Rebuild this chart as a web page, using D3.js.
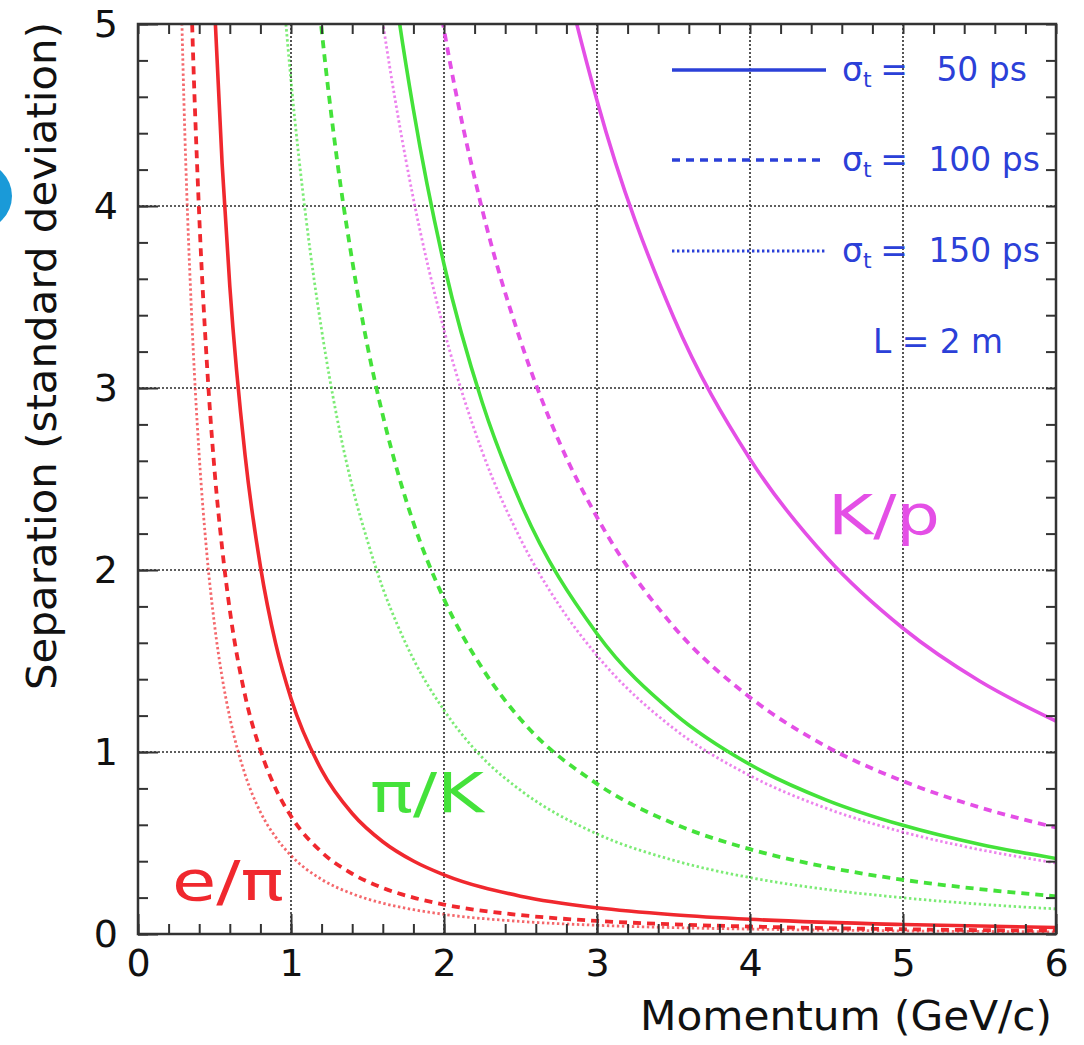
<!DOCTYPE html>
<html><head><meta charset="utf-8">
<script src="https://cdn.jsdelivr.net/npm/d3@7"></script>
<style>body{margin:0;background:#fff;overflow:hidden} svg{display:block}</style>
</head><body>
<svg id="c" width="1084" height="1045"></svg>
<script>
// ---- data ----
const xTicks = [0, 1, 2, 3, 4, 5, 6];
const yTicks = [0, 1, 2, 3, 4, 5];
const sigmaLabels = ["50", "100", "150"];
const pairLabels = ["e/π", "π/K", "K/p"];

const pEPi = [0.25,0.3,0.35,0.4,0.45,0.5,0.55,0.6,0.7,0.8,0.9,1.0,1.2,1.4,1.6,1.8,2.0,2.5,3,3.5,4,5,6];
const ePi50  = [19.39,13.73,10.22,7.89,6.27,5.10,4.23,3.56,2.63,2.02,1.595,1.294,0.900,0.662,0.507,0.401,0.325,0.208,0.144,0.106,0.081,0.052,0.036];
const ePi100 = [9.69,6.87,5.11,3.95,3.14,2.55,2.12,1.78,1.31,1.01,0.798,0.647,0.450,0.331,0.253,0.200,0.162,0.104,0.072,0.053,0.041,0.026,0.018];
const ePi150 = [6.46,4.58,3.41,2.63,2.09,1.70,1.41,1.19,0.876,0.67,0.532,0.431,0.300,0.221,0.169,0.134,0.108,0.069,0.048,0.035,0.027,0.017,0.012];

const pPiK = [0.8,0.9,1.0,1.1,1.2,1.3,1.4,1.5,1.6,1.7,1.8,2.0,2.25,2.5,3,3.5,4,4.5,5,5.5,6];
const piK50  = [21.3,17.16,14.08,11.75,9.95,8.53,7.39,6.46,5.70,5.06,4.53,3.68,2.92,2.37,1.65,1.215,0.931,0.736,0.597,0.493,0.415];
const piK100 = [10.67,8.58,7.04,5.87,4.97,4.26,3.70,3.23,2.85,2.53,2.26,1.84,1.46,1.18,0.825,0.607,0.466,0.368,0.298,0.247,0.207];
const piK150 = [7.11,5.72,4.69,3.92,3.32,2.84,2.46,2.16,1.90,1.69,1.51,1.23,0.97,0.79,0.550,0.405,0.310,0.245,0.199,0.164,0.138];

const pKP = [1.5,1.6,1.7,1.8,2.0,2.25,2.5,2.75,3,3.5,4,4.5,5,5.5,6];
const kP50  = [16.9,15.04,13.46,12.11,9.95,7.96,6.51,5.42,4.58,3.39,2.61,2.07,1.68,1.39,1.17];
const kP100 = [8.46,7.52,6.73,6.06,4.97,3.98,3.26,2.71,2.29,1.69,1.30,1.03,0.840,0.696,0.585];
const kP150 = [5.64,5.01,4.49,4.04,3.32,2.65,2.17,1.81,1.53,1.13,0.870,0.690,0.560,0.464,0.390];

// ---- styles ----
const colors = {"e/π": "#f0282e", "π/K": "#44e23a", "K/p": "#e44fe6"};
const dashStyles = [
  {dash: null, width: 3.6, op: 1},
  {dash: "8,6", width: 3.8, op: 1},
  {dash: "2.4,2.6", width: 2.8, op: 0.7}
];
const blue = "#2b40d8";

const series = [
  {pair: "e/π", p: pEPi, vals: [ePi50, ePi100, ePi150]},
  {pair: "π/K", p: pPiK, vals: [piK50, piK100, piK150]},
  {pair: "K/p", p: pKP,  vals: [kP50, kP100, kP150]}
];

const svg = d3.select("#c");
const x = d3.scaleLinear().domain([0, 6]).range([138, 1056]);
const y = d3.scaleLinear().domain([0, 5]).range([934, 24]);

// decorative blue circle at left edge (in reference screenshot)
svg.append("circle").attr("cx", -22).attr("cy", 196).attr("r", 34).attr("fill", "#1a9ad8");

svg.append("defs").append("clipPath").attr("id", "plotclip")
  .append("rect").attr("x", x(0)).attr("y", y(5)).attr("width", x(6) - x(0)).attr("height", y(0) - y(5));

// grid
const grid = svg.append("g").attr("stroke", "#2a2a2a").attr("stroke-width", 1.6).attr("stroke-dasharray", "2,2");
grid.selectAll(".gx").data(xTicks.slice(1, -1)).join("line")
  .attr("x1", d => x(d)).attr("x2", d => x(d)).attr("y1", y(0)).attr("y2", y(5));
grid.selectAll(".gy").data(yTicks.slice(1, -1)).join("line")
  .attr("y1", d => y(d)).attr("y2", d => y(d)).attr("x1", x(0)).attr("x2", x(6));

// curves
const line = d3.line().x(d => x(d[0])).y(d => y(d[1])).curve(d3.curveMonotoneX);
const curves = svg.append("g").attr("clip-path", "url(#plotclip)").attr("fill", "none");
series.forEach(s => {
  s.vals.forEach((v, i) => {
    const st = dashStyles[i];
    curves.append("path")
      .attr("d", line(s.p.map((pp, j) => [pp, v[j]])))
      .attr("stroke", colors[s.pair])
      .attr("stroke-width", st.width)
      .attr("stroke-opacity", st.op)
      .attr("stroke-dasharray", st.dash);
  });
});

// axes (ticks inward)
const minorX = d3.range(0, 6.0001, 0.2);
const minorY = d3.range(0, 5.0001, 0.2);
function styleAxis(g) {
  g.select(".domain").remove();
  g.selectAll(".tick line").attr("stroke", "#333").attr("stroke-width", 2);
}
svg.append("g").attr("transform", `translate(0,${y(0)})`)
  .call(d3.axisBottom(x).tickValues(minorX).tickSize(-10).tickFormat("")).call(styleAxis);
svg.append("g").attr("transform", `translate(0,${y(5)})`)
  .call(d3.axisTop(x).tickValues(minorX).tickSize(-10).tickFormat("")).call(styleAxis);
svg.append("g").attr("transform", `translate(${x(0)},0)`)
  .call(d3.axisLeft(y).tickValues(minorY).tickSize(-10).tickFormat("")).call(styleAxis);
svg.append("g").attr("transform", `translate(${x(6)},0)`)
  .call(d3.axisRight(y).tickValues(minorY).tickSize(-10).tickFormat("")).call(styleAxis);

const xa = svg.append("g").attr("transform", `translate(0,${y(0)})`)
  .call(d3.axisBottom(x).tickValues(xTicks).tickSize(-20).tickPadding(15).tickFormat(d3.format("d")));
styleAxis(xa);
const ya = svg.append("g").attr("transform", `translate(${x(0)},0)`)
  .call(d3.axisLeft(y).tickValues(yTicks).tickSize(-20).tickPadding(20).tickFormat(d3.format("d")));
styleAxis(ya);
[xa, ya].forEach(g => g.selectAll("text")
  .attr("font-family", "'DejaVu Sans', sans-serif").attr("font-size", 38).attr("fill", "#111"));

// frame
svg.append("rect").attr("x", x(0)).attr("y", y(5)).attr("width", x(6) - x(0)).attr("height", y(0) - y(5))
  .attr("fill", "none").attr("stroke", "#333").attr("stroke-width", 2.5);

// axis titles
svg.append("text").attr("x", 1052).attr("y", 1030).attr("text-anchor", "end")
  .attr("font-family", "'DejaVu Sans', sans-serif").attr("font-size", 41).attr("fill", "#111")
  .attr("textLength", 412).attr("lengthAdjust", "spacingAndGlyphs")
  .text("Momentum (GeV/c)");
svg.append("text").attr("transform", "translate(56,356) rotate(-90)").attr("text-anchor", "middle")
  .attr("font-family", "'DejaVu Sans', sans-serif").attr("font-size", 40).attr("fill", "#111")
  .attr("textLength", 668).attr("lengthAdjust", "spacingAndGlyphs")
  .text("Separation (standard deviation)");

// pair labels
const labelPos = {"e/π": [172, 900, 112], "π/K": [370, 812, 114], "K/p": [828, 534, 112]};
pairLabels.forEach(l => {
  const [lx, ly, lw] = labelPos[l];
  svg.append("text").attr("x", lx).attr("y", ly)
    .attr("font-family", "'DejaVu Sans', sans-serif").attr("font-size", 56)
    .attr("fill", colors[l]).attr("textLength", lw).attr("lengthAdjust", "spacingAndGlyphs").text(l);
});

// legend
const legY = [70, 160, 251];
const legRight = [1027, 1040, 1040];
const leg = svg.append("g").attr("font-family", "'DejaVu Sans', sans-serif").attr("font-size", 33).attr("fill", blue);
sigmaLabels.forEach((s, i) => {
  const st = dashStyles[i];
  leg.append("line").attr("x1", 672).attr("x2", 826).attr("y1", legY[i]).attr("y2", legY[i])
    .attr("stroke", blue).attr("stroke-width", i === 2 ? 2.8 : 3.4).attr("stroke-dasharray", st.dash);
  const t = leg.append("text").attr("x", 842).attr("y", legY[i] + 11);
  t.append("tspan").text("σ");
  t.append("tspan").attr("font-size", 22).attr("dy", 6).text("t");
  leg.append("text").attr("x", 894).attr("y", legY[i] + 11).attr("text-anchor", "middle").text("=");
  leg.append("text").attr("x", legRight[i]).attr("y", legY[i] + 11).attr("text-anchor", "end").text(s + " ps");
});
leg.append("text").attr("x", 873).attr("y", 353).attr("textLength", 130).attr("lengthAdjust", "spacingAndGlyphs").text("L = 2 m");
</script>
</body></html>
